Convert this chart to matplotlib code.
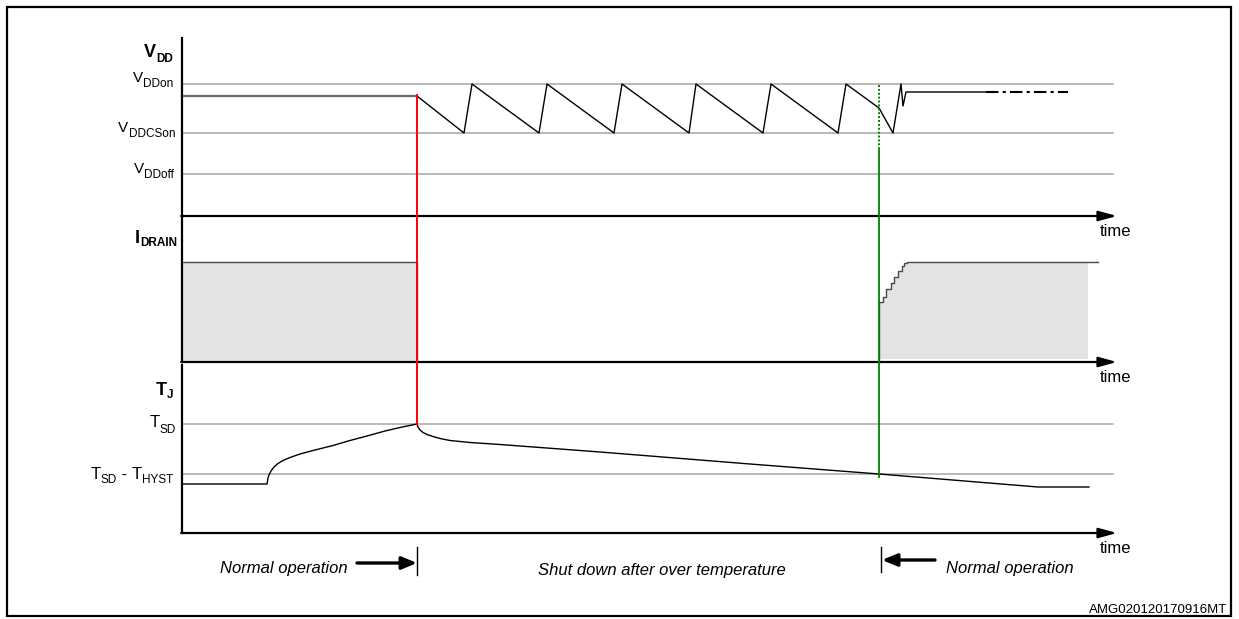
import matplotlib

matplotlib.use("Agg")
import matplotlib.pyplot as plt
from matplotlib.patches import Rectangle

# Timing diagram in screen-like units: x is time, y grows downwards.
t_axis, t_shutdown, t_restart, t_ref_end = 182, 417, 879, 1113

# supply voltage thresholds and waveform
vdd_on, vdd_cson, vdd_off = 84, 133, 174
vdd_normal_t = [182, 417]
vdd_normal_v = [96, 96]
vdd_saw_t = [417, 464, 472, 539, 547, 614, 622, 689, 696, 763, 771, 838, 846,
             879, 893, 901, 903, 906, 986]
vdd_saw_v = [96, 133, 84, 133, 84, 133, 84, 133, 84, 133, 84, 133, 84,
             108, 133, 84, 106, 92, 92]
vdd_tail_t = [986, 1068]
vdd_tail_v = [92, 92]

# drain current
idrain_on, idrain_zero = 262, 362
idrain_off_t = [182, 417, 417]
idrain_off_v = [262, 262, 362]
idrain_ramp_t = [879, 879, 883, 886, 891, 894, 898, 902, 904, 907, 1098]
idrain_ramp_v = [362, 302, 297, 289, 283, 277, 271, 266, 263, 262, 262]
idrain_fill_t = [879, 883, 886, 891, 894, 898, 902, 904, 907, 1088]
idrain_fill_v = [302, 297, 289, 283, 277, 271, 266, 263, 262, 262]

# junction temperature
tj_sd, tj_hyst = 424, 474
tj_rise_t = [182, 267, 267.5, 268, 269, 271, 274, 278, 283, 290, 300, 315,
             333, 350, 367, 385, 400, 417]
tj_rise_v = [484, 484, 481, 478, 475, 471, 467, 463.5, 460.5, 457.5, 454, 450,
             445.5, 440.5, 436, 431, 427.5, 424]
tj_fall_t = [417, 418, 420, 423, 427, 433, 440, 450, 470, 500, 600, 750, 879,
             1038, 1089]
tj_fall_v = [424, 427, 430, 432.5, 434.5, 436.5, 438.5, 440.5, 442.5, 444.5,
             452, 464, 474, 487, 487]

plt.rcParams["font.family"] = ["Liberation Sans", "DejaVu Sans"]

fig = plt.figure(figsize=(12.39, 6.19), dpi=100)
ax = fig.add_axes([0, 0, 1, 1])
ax.set_xlim(0, 1239)
ax.set_ylim(619, 0)
ax.axis("off")
renderer = fig.canvas.get_renderer()

ax.add_patch(Rectangle((7, 7), 1224, 609, fill=False, lw=1.6, ec="black"))

ref = dict(color="#a6a6a6", lw=1.1, zorder=1)
for y in (vdd_on, vdd_cson, vdd_off, tj_sd, tj_hyst):
    ax.plot([t_axis, t_ref_end], [y, y], **ref)

# axes of the three panels
for top, bottom in ((38, 216), (218, 362), (365, 533)):
    ax.plot([t_axis, t_axis], [top, bottom], color="black", lw=1.6, zorder=4)
    ax.annotate("", xy=(1117, bottom), xytext=(t_axis - 0.8, bottom),
                arrowprops=dict(arrowstyle="-|>,head_length=1.1,head_width=0.3",
                                lw=1.6, color="black", shrinkA=0, shrinkB=0),
                zorder=4)
    ax.text(1100, bottom + 20, "time", fontsize=12, ha="left", va="baseline")

# VDD
ax.plot(vdd_normal_t, vdd_normal_v, color="#6a6a6a", lw=1.6, zorder=3)
ax.plot(vdd_saw_t, vdd_saw_v, color="black", lw=1.0, zorder=3)
ax.plot(vdd_tail_t, vdd_tail_v, color="black", lw=1.5,
        dashes=(6, 2, 1.5, 2), zorder=3)

# IDRAIN
ax.fill_between(idrain_off_t[:2], idrain_off_v[:2], idrain_zero - 1,
                color="#e3e3e3", lw=0, zorder=1)
ax.fill_between(idrain_fill_t, idrain_fill_v, idrain_zero - 3, step="post",
                color="#e3e3e3", lw=0, zorder=1)
ax.plot(idrain_off_t, idrain_off_v, color="#4a4a4a", lw=1.0, zorder=3)
ax.plot(idrain_ramp_t, idrain_ramp_v, color="#4a4a4a", lw=1.0,
        drawstyle="steps-post", zorder=3)

# TJ
ax.plot(tj_rise_t, tj_rise_v, color="black", lw=1.0, zorder=3)
ax.plot(tj_fall_t, tj_fall_v, color="black", lw=1.0, zorder=3)

# shutdown / restart markers
ax.plot([t_shutdown, t_shutdown], [95, tj_sd], color="#ff0000", lw=1.4, zorder=5)
ax.plot([t_restart, t_restart], [85, 150], color="#008000", lw=1.4,
        ls=(0, (1, 1)), zorder=5)
ax.plot([t_restart, t_restart], [150, 477], color="#008000", lw=1.3, zorder=5)


def level_label(x_right, y_base, parts, size, sub_size, weight="normal", drop=5):
    # lay out main text and subscripts from right to left
    x = x_right
    for txt, is_sub in reversed(parts):
        t = ax.text(x, y_base + (drop if is_sub else 0), txt, ha="right",
                    va="baseline", fontsize=sub_size if is_sub else size,
                    weight=weight)
        bb = t.get_window_extent(renderer=renderer)
        x = ax.transData.inverted().transform((bb.x0, bb.y0))[0]


level_label(173, 57, [("V", 0), ("DD", 1)], 13, 8.5, "bold", 5)
level_label(173, 82, [("V", 0), ("DDon", 1)], 11, 8.5)
level_label(175, 132, [("V", 0), ("DDCSon", 1)], 11, 8.5)
level_label(174, 173, [("V", 0), ("DDoff", 1)], 11, 8.5)
level_label(177, 243, [("I", 0), ("DRAIN", 1)], 13, 8.5, "bold", 2.5)
level_label(173, 395, [("T", 0), ("J", 1)], 13, 8.5, "bold", 3)
level_label(176, 427, [("T", 0), ("SD", 1)], 12, 8.5, drop=6)
level_label(173, 479, [("T", 0), ("SD", 1), (" - ", 0), ("T", 0), ("HYST", 1)],
            12, 8.5, drop=4)

# operating phases
arrow = dict(arrowstyle="-|>,head_length=0.36,head_width=0.15",
             lw=2.4, color="black", shrinkA=0, shrinkB=0,
             mutation_scale=25)
ax.annotate("", xy=(t_shutdown, 563), xytext=(357, 563), arrowprops=arrow)
ax.plot([t_shutdown, t_shutdown], [547, 575], color="black", lw=1.0)
ax.annotate("", xy=(882, 560), xytext=(935, 560), arrowprops=arrow)
ax.plot([881, 881], [547, 572], color="black", lw=1.0)

phase = dict(fontsize=12, style="italic", ha="center", va="center")
ax.text(284, 568, "Normal operation", **phase)
ax.text(662, 570, "Shut down after over temperature", **phase)
ax.text(1010, 569, "Normal operation", **phase)

ax.text(1227, 613, "AMG020120170916MT", fontsize=9.5, ha="right", va="baseline")

fig.savefig("out.png", dpi=100)
